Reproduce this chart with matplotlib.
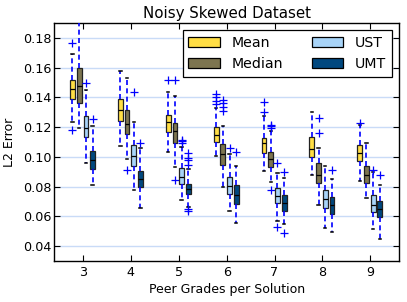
import matplotlib
matplotlib.use("Agg")
import matplotlib.pyplot as plt
from matplotlib.patches import Patch

# ---------------- data ----------------
peer_grades = [3, 4, 5, 6, 7, 8, 9]
methods = ["Mean", "Median", "UST", "UMT"]
colors = ["#ffde45", "#7d7550", "#a8d4f8", "#00487f"]
offsets = [-0.22, -0.08, 0.06, 0.20]

mean_whislo = [0.1232, 0.1070, 0.1032, 0.1005, 0.0906, 0.0877, 0.0839]
mean_q1     = [0.1389, 0.1239, 0.1169, 0.1097, 0.1027, 0.0996, 0.0971]
mean_med    = [0.1459, 0.1317, 0.1236, 0.1146, 0.1095, 0.1050, 0.1027]
mean_q3     = [0.1519, 0.1389, 0.1281, 0.1198, 0.1128, 0.1135, 0.1079]
mean_whishi = [0.1695, 0.1580, 0.1434, 0.1327, 0.1277, 0.1299, 0.1212]
mean_fliers = [[0.1766, 0.1178], [], [0.1515], [0.1425, 0.1400, 0.1375, 0.1355],
               [0.1367, 0.1304], [], [0.1228]]

median_whislo = [0.1194, 0.0986, 0.0929, 0.0798, 0.0832, 0.0677, 0.0720]
median_q1     = [0.1362, 0.1156, 0.1095, 0.0947, 0.0929, 0.0821, 0.0827]
median_med    = [0.1479, 0.1221, 0.1173, 0.1017, 0.0985, 0.0877, 0.0875]
median_q3     = [0.1598, 0.1313, 0.1229, 0.1084, 0.1032, 0.0956, 0.0938]
median_whishi = [0.2000, 0.1531, 0.1413, 0.1205, 0.1176, 0.1061, 0.1096]
median_fliers = [[], [0.0909], [0.1520, 0.0845], [0.1385, 0.1360, 0.1335, 0.1310],
                 [0.1215, 0.1205, 0.1195, 0.0776], [0.1259, 0.1158], []]

ust_whislo = [0.0958, 0.0774, 0.0709, 0.0633, 0.0567, 0.0522, 0.0515]
ust_q1     = [0.1133, 0.0936, 0.0816, 0.0748, 0.0686, 0.0653, 0.0629]
ust_med    = [0.1194, 0.1003, 0.0866, 0.0802, 0.0736, 0.0714, 0.0678]
ust_q3     = [0.1277, 0.1077, 0.0926, 0.0862, 0.0787, 0.0777, 0.0740]
ust_whishi = [0.1452, 0.1234, 0.1063, 0.1021, 0.0888, 0.0939, 0.0895]
ust_fliers = [[0.1500], [0.1434], [0.1115, 0.1105, 0.1095], [0.1057],
              [0.0960, 0.0529], [], [0.0911]]

umt_whislo = [0.0808, 0.0656, 0.0665, 0.0554, 0.0544, 0.0490, 0.0449]
umt_q1     = [0.0918, 0.0797, 0.0748, 0.0685, 0.0638, 0.0615, 0.0592]
umt_med    = [0.0976, 0.0851, 0.0781, 0.0743, 0.0689, 0.0676, 0.0651]
umt_q3     = [0.1037, 0.0907, 0.0817, 0.0808, 0.0742, 0.0732, 0.0704]
umt_whishi = [0.1210, 0.1059, 0.0916, 0.0939, 0.0859, 0.0849, 0.0812]
umt_fliers = [[0.1257], [0.1095], [0.1025, 0.0995, 0.0980, 0.0945, 0.0650, 0.0635],
              [0.1031], [0.0898, 0.0487], [0.0914], [0.0878]]

series = [
    (mean_whislo, mean_q1, mean_med, mean_q3, mean_whishi, mean_fliers),
    (median_whislo, median_q1, median_med, median_q3, median_whishi, median_fliers),
    (ust_whislo, ust_q1, ust_med, ust_q3, ust_whishi, ust_fliers),
    (umt_whislo, umt_q1, umt_med, umt_q3, umt_whishi, umt_fliers),
]

# ---------------- figure ----------------
fig = plt.figure(figsize=(4.07, 3.02), dpi=100)
ax = fig.add_axes([0.1334, 0.1368, 0.847, 0.786])

for k, (wlo, q1, med, q3, whi, fl) in enumerate(series):
    stats = []
    for i in range(len(peer_grades)):
        stats.append(dict(whislo=wlo[i], q1=q1[i], med=med[i], q3=q3[i],
                          whishi=whi[i], fliers=fl[i]))
    pos = [g + offsets[k] for g in peer_grades]
    ax.bxp(stats, positions=pos, widths=0.1, capwidths=0.05, patch_artist=True,
           manage_ticks=False,
           boxprops=dict(facecolor=colors[k], edgecolor="#222222", linewidth=0.9),
           medianprops=dict(color="black", linewidth=0.9),
           whiskerprops=dict(color="blue", linestyle=(0, (3, 2)), linewidth=1.2),
           capprops=dict(color="black", linewidth=1.1),
           flierprops=dict(marker="+", markeredgecolor="blue", markersize=6,
                           markeredgewidth=0.9, linestyle="none"),
           zorder=3)

ax.set_xlim(2.4, 9.6)
ax.set_ylim(0.03, 0.19)
ax.set_xticks(peer_grades)
ax.set_xticklabels([str(g) for g in peer_grades])
ax.set_yticks([0.04, 0.06, 0.08, 0.10, 0.12, 0.14, 0.16, 0.18])
ax.set_yticklabels(["0.04", "0.06", "0.08", "0.10", "0.12", "0.14", "0.16", "0.18"])
ax.tick_params(direction="in", top=True, right=True, labelsize=9.2, length=4,
               width=0.8)
ax.tick_params(axis="y", pad=2)
ax.tick_params(axis="x", pad=4)
ax.yaxis.grid(True, color="#c9dbf7", linewidth=1.0)
ax.set_axisbelow(True)
for s in ax.spines.values():
    s.set_linewidth(1.0)

ax.set_title("Noisy Skewed Dataset", fontsize=10.8, pad=4)
ax.set_xlabel("Peer Grades per Solution", fontsize=9.0, labelpad=3)
ax.set_ylabel("L2 Error", fontsize=9.0, labelpad=5)

handles = [Patch(facecolor=c, edgecolor="black", linewidth=0.9) for c in colors]
leg = ax.legend(handles, methods, loc="upper right", ncol=2, fontsize=10.2,
                handlelength=2.2, handletextpad=0.86, columnspacing=2.0,
                labelspacing=0.5, borderaxespad=0.5, fancybox=False,
                framealpha=1, edgecolor="black")
leg.get_frame().set_linewidth(0.9)
leg.set_zorder(5)

fig.savefig("out.png", dpi=100)
